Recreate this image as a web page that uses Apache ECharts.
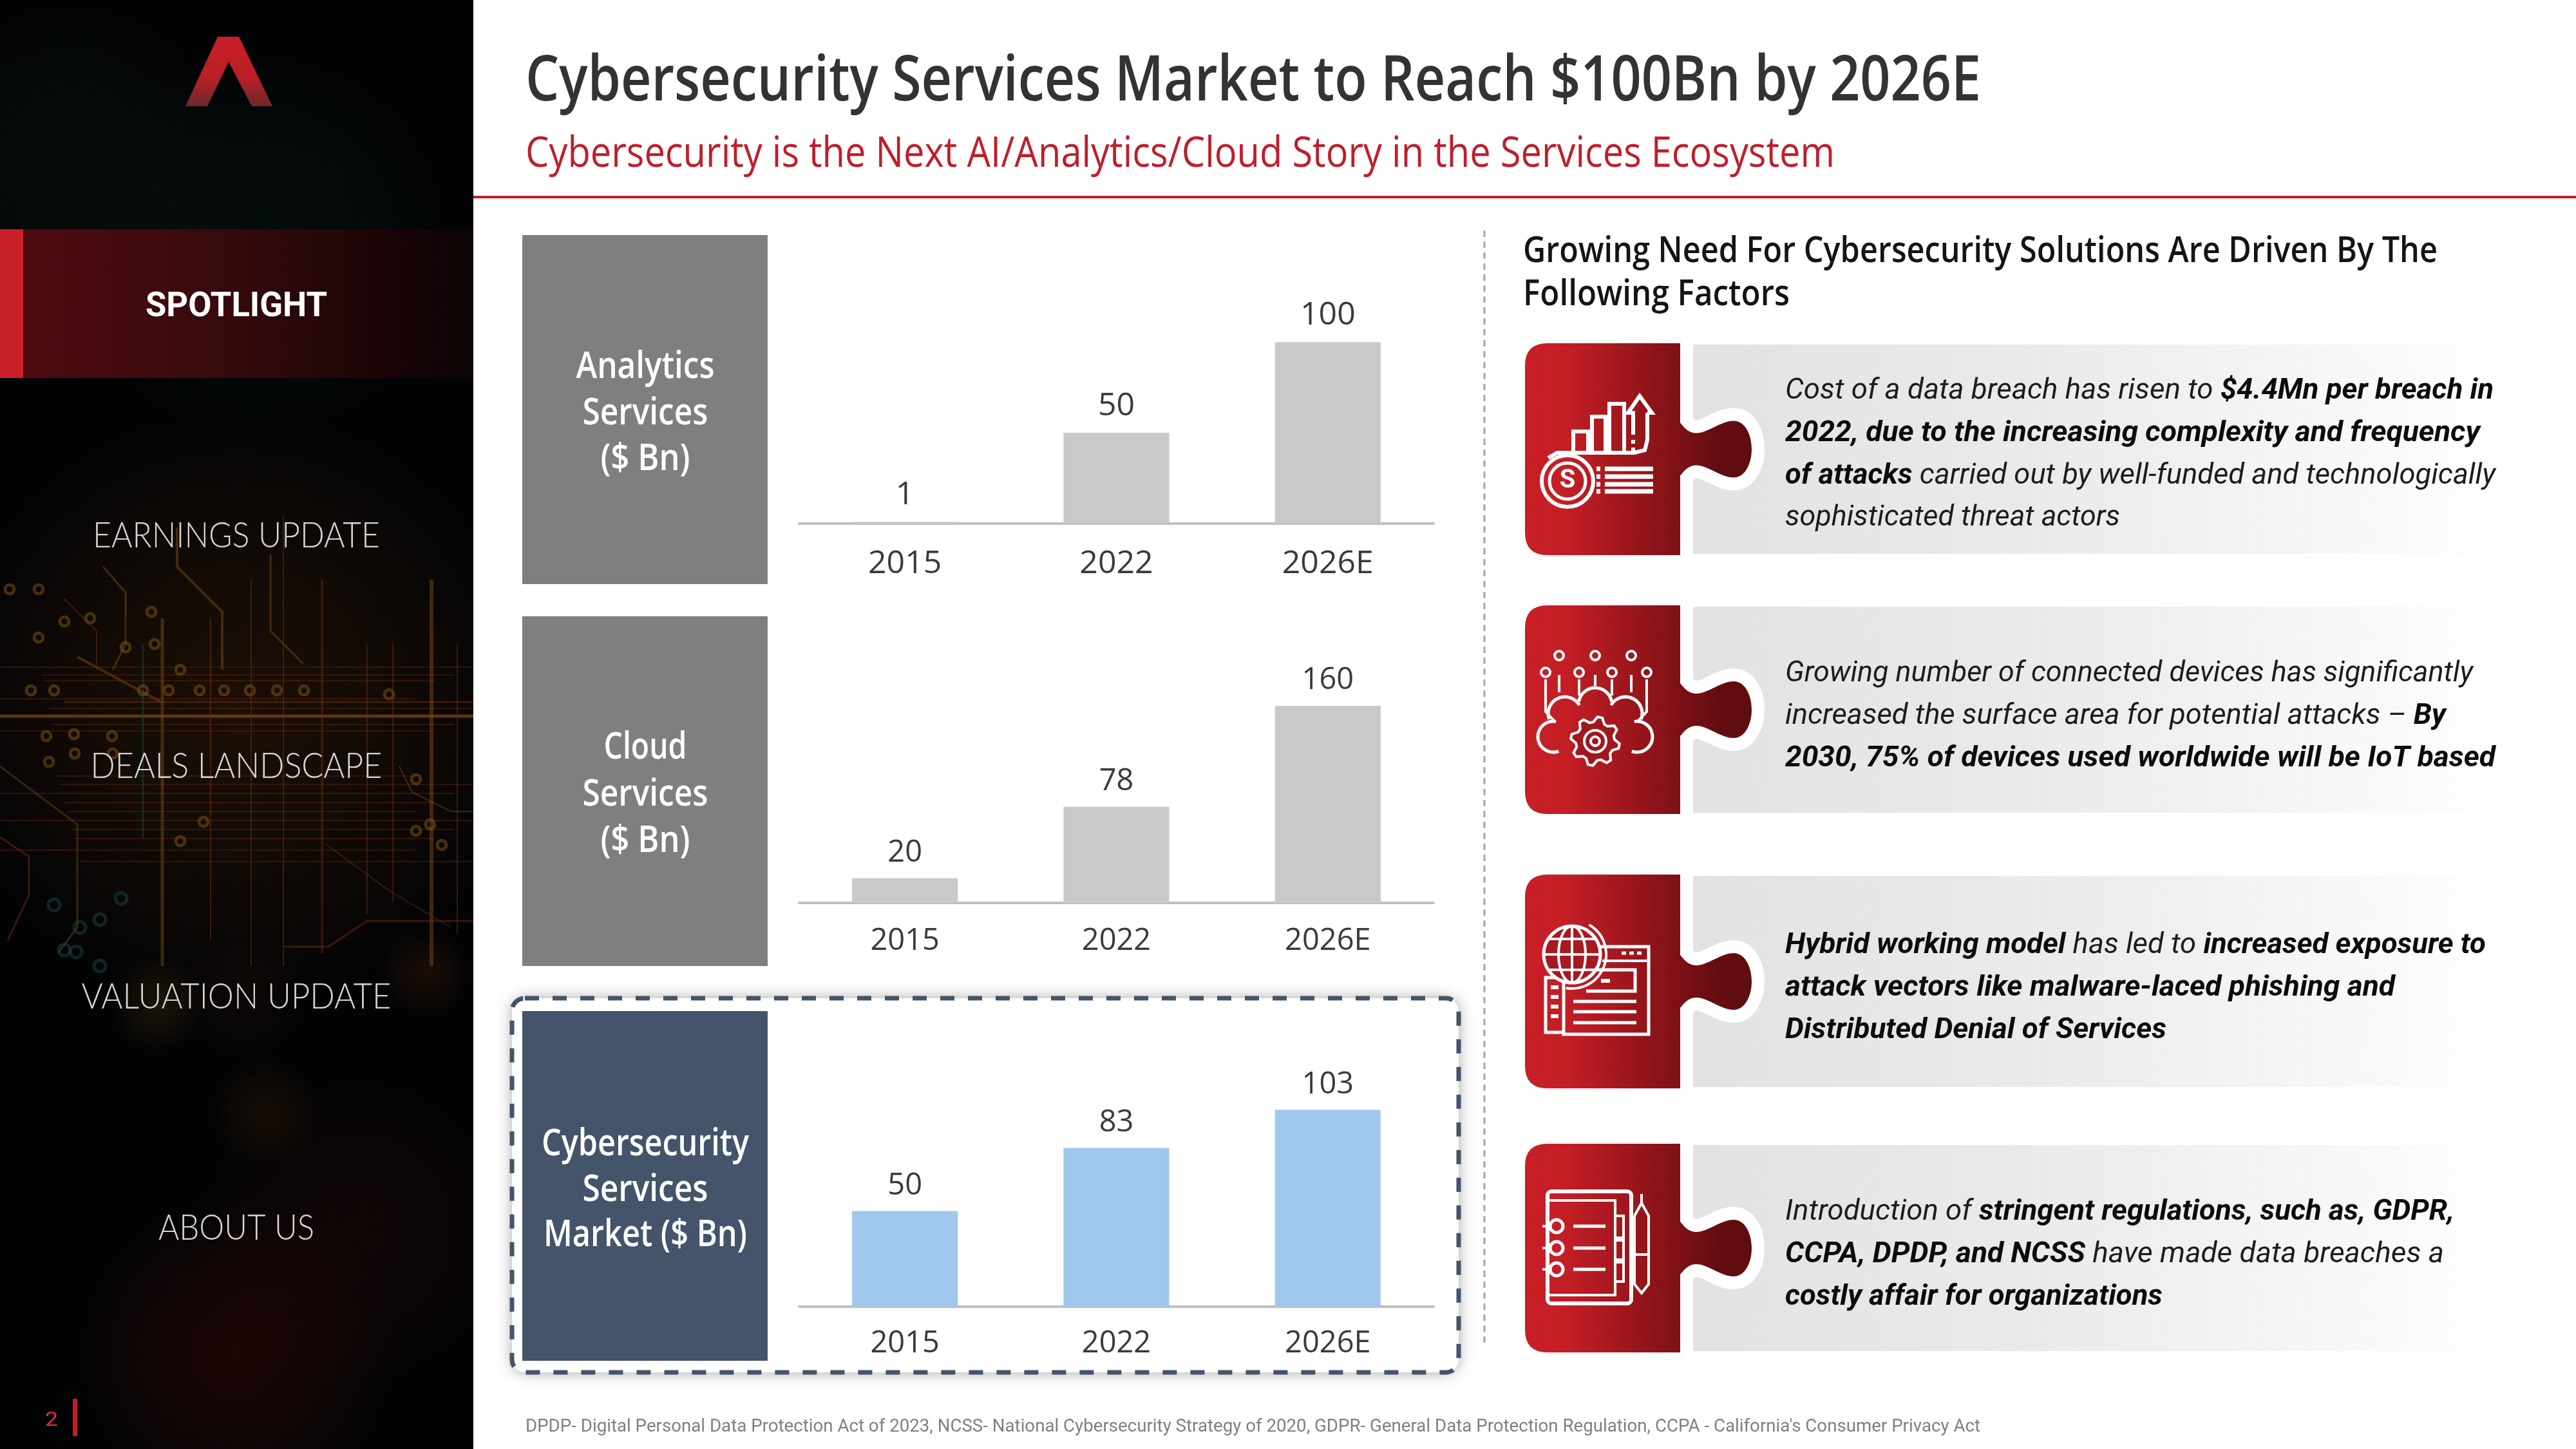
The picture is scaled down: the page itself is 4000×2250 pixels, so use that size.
<!DOCTYPE html>
<html><head><meta charset="utf-8">
<style>html,body{margin:0;padding:0;background:#fff}#c{width:4000px;height:2250px}</style>
<script src="https://cdn.jsdelivr.net/npm/echarts@6/dist/echarts.min.js"></script>
</head><body><div id="c"></div>
<script>
// ---------- chart data ----------
const categories = ['2015', '2022', '2026E'];
const analyticsValues = [1, 50, 100];
const cloudValues = [20, 78, 160];
const cyberValues = [50, 83, 103];

// ---------- texts ----------
const titleText = 'Cybersecurity Services Market to Reach $100Bn by 2026E';
const subtitleText = 'Cybersecurity is the Next AI/Analytics/Cloud Story in the Services Ecosystem';
const footnoteText = "DPDP- Digital Personal Data Protection Act of 2023, NCSS- National Cybersecurity Strategy of 2020, GDPR- General Data Protection Regulation, CCPA - California's Consumer Privacy Act";
const factorsHead = ['Growing Need For Cybersecurity Solutions Are Driven By The', 'Following Factors'];
const navItems = ['SPOTLIGHT', 'EARNINGS UPDATE', 'DEALS LANDSCAPE', 'VALUATION UPDATE', 'ABOUT US'];
const panelLabels = [['Analytics', 'Services', '($ Bn)'], ['Cloud', 'Services', '($ Bn)'], ['Cybersecurity', 'Services', 'Market ($ Bn)']];
const factorLines = [
  [[['Cost of a data breach has risen to ', 0], ['$4.4Mn per breach in', 1]], [['2022, due to the increasing complexity and frequency', 1]], [['of attacks', 1], [' carried out by well-funded and technologically', 0]], [['sophisticated threat actors', 0]]],
  [[['Growing number of connected devices has significantly', 0]], [['increased the surface area for potential attacks – ', 0], ['By', 1]], [['2030, 75% of devices used worldwide will be IoT based', 1]]],
  [[['Hybrid working model', 1], [' has led to ', 0], ['increased exposure to', 1]], [['attack vectors like malware-laced phishing and', 1]], [['Distributed Denial of Services', 1]]],
  [[['Introduction of ', 0], ['stringent regulations, such as, GDPR,', 1]], [['CCPA, DPDP, and NCSS', 1], [' have made data breaches a', 0]], [['costly affair for organizations', 1]]]
];

// ---------- layout ----------
const charts = [
  { values: analyticsValues, color: '#C9C9C9', axisY: 813, top: 362, max: 160, tick: 50, lab: 50, dist: 16, margin: 38 },
  { values: cloudValues, color: '#C9C9C9', axisY: 1402, top: 943, max: 240, tick: 47, lab: 47, dist: 16, margin: 36 },
  { values: cyberValues, color: '#A0C8EC', axisY: 2029, top: 1554, max: 160, tick: 47, lab: 47, dist: 15, margin: 34 }
];
const panels = [
  { y: 365, h: 542, fill: '#7F7F7F', ly: [569, 641, 712], lw: [215, 195, 139] },
  { y: 957, h: 543, fill: '#7F7F7F', ly: [1160, 1233, 1305], lw: [129, 195, 139] },
  { y: 1570, h: 543, fill: '#44546A', ly: [1776, 1847, 1917], lw: [322, 195, 316] }
];
const cards = [
  { top: 533, bottom: 862, ys: [603, 669, 735, 800], ws: [1100, 1079, 1103, 520] },
  { top: 940, bottom: 1264, ys: [1042, 1108, 1174], ws: [1068, 1026, 1103] },
  { top: 1358, bottom: 1690, ys: [1464, 1530, 1596], ws: [1088, 947, 592] },
  { top: 1776, bottom: 2100, ys: [1878, 1944, 2010], ws: [1039, 1023, 586] }
];
const navLayout = [[477, 282], [832, 446], [1190, 453], [1548, 481], [1907, 242]];

const FONT = 'Roboto';
const mctx = document.createElement('canvas').getContext('2d');
function mw(t, font) { mctx.font = font; return mctx.measureText(t).width; }
const els = [];
const add = o => (els.push(o), o);

// puzzle-piece outline used by the cards
echarts.graphic.registerShape('puzzle', echarts.graphic.extendShape({
  shape: { x: 0, y: 0, h: 100 },
  buildPath(ctx, s) {
    const X = s.x, Y = s.y, h = s.h, c = h / 2, M = (a, b) => [X + a, Y + b];
    ctx.moveTo(...M(35, 0));
    ctx.lineTo(...M(241, 0));
    ctx.lineTo(...M(241, c - 41));
    ctx.bezierCurveTo(...M(250, c - 30), ...M(256, c - 25), ...M(266, c - 25));
    ctx.bezierCurveTo(...M(284, c - 25), ...M(304, c - 44), ...M(324, c - 44));
    ctx.bezierCurveTo(...M(342, c - 44), ...M(352, c - 22), ...M(352, c));
    ctx.bezierCurveTo(...M(352, c + 22), ...M(342, c + 44), ...M(324, c + 44));
    ctx.bezierCurveTo(...M(304, c + 44), ...M(284, c + 25), ...M(266, c + 25));
    ctx.bezierCurveTo(...M(256, c + 25), ...M(250, c + 30), ...M(241, c + 41));
    ctx.lineTo(...M(241, h));
    ctx.lineTo(...M(35, h));
    ctx.quadraticCurveTo(...M(0, h), ...M(0, h - 35));
    ctx.lineTo(...M(0, 35));
    ctx.quadraticCurveTo(...M(0, 0), ...M(35, 0));
    ctx.closePath();
  }
}));

function T(text, o) {
  const fam = o.family || FONT, size = o.size, w = o.weight || 400, it = o.italic ? 'italic ' : '';
  const f = `${it}${w} ${size}px "${fam}"`;
  const sx = o.w ? o.w / mw(text, f) : 1;
  add({ type: 'text', x: o.x, y: o.y, scaleX: sx, silent: true,
    style: { text, font: f, fill: o.color, align: o.align || 'left', verticalAlign: 'middle' } });
}
function richLine(segs, x, y, tw) {
  const size = 44, fr = `italic 400 ${size}px "${FONT}"`, fb = `italic 700 ${size}px "${FONT}"`;
  let total = 0;
  segs.forEach(s => total += mw(s[0], s[1] ? fb : fr));
  add({ type: 'text', x, y: y + 5, scaleX: tw / total, silent: true,
    style: { text: segs.map(s => `{${s[1] ? 'b' : 'r'}|${s[0]}}`).join(''), verticalAlign: 'middle', align: 'left',
      rich: {
        r: { fontFamily: FONT, fontSize: size, fontStyle: 'italic', fontWeight: 400, fill: '#1c1c1c' },
        b: { fontFamily: FONT, fontSize: size, fontStyle: 'italic', fontWeight: 700, fill: '#0c0c0c' }
      } } });
}
const hgrad = (stops) => ({ type: 'linear', x: 0, y: 0, x2: 1, y2: 0, colorStops: stops.map(s => ({ offset: s[0], color: s[1] })) });
const vgrad = (stops) => ({ type: 'linear', x: 0, y: 0, x2: 0, y2: 1, colorStops: stops.map(s => ({ offset: s[0], color: s[1] })) });
const rad = (stops) => ({ type: 'radial', x: .5, y: .5, r: .5, colorStops: stops.map(s => ({ offset: s[0], color: s[1] })) });
const glow = (x, y, w, h, rgb, a) => add({ type: 'rect', silent: true, shape: { x, y, width: w, height: h }, style: { fill: rad([[0, `rgba(${rgb},${a})`], [.55, `rgba(${rgb},${a * .55})`], [1, `rgba(${rgb},0)`]]) } });
const R = (x, y, width, height, fill, r) => add({ type: 'rect', silent: true, shape: { x, y, width, height, r: r || 0 }, style: { fill } });
const L = (pts, stroke, lineWidth) => add({ type: 'polyline', silent: true, shape: { points: pts }, style: { fill: 'none', stroke, lineWidth } });
const C = (cx, cy, r, stroke, lineWidth) => add({ type: 'circle', silent: true, shape: { cx, cy, r }, style: { fill: 'none', stroke, lineWidth } });
const A = (cx, cy, r, a0, a1, stroke, lineWidth) => add({ type: 'arc', silent: true, shape: { cx, cy, r, startAngle: a0 * Math.PI / 180, endAngle: a1 * Math.PI / 180, clockwise: true }, style: { fill: 'none', stroke, lineWidth } });

// ---------- sidebar ----------
R(0, 0, 735, 2250, '#020305');
glow(100, 0, 600, 760, '10,30,22', .4);
glow(-200, 2, 620, 500, '14,26,16', .4);
glow(-100, 620, 935, 960, '62,32,8', .42);
glow(-100, 1850, 935, 500, '52,10,5', .5);
glow(250, 1660, 600, 500, '36,8,5', .4);
// blurred traces
glow(170, 1300, 150, 520, '84,58,12', .3);
glow(100, 1640, 620, 170, '70,40,8', .28);
glow(590, 1300, 140, 420, '80,34,10', .3);
glow(280, 1320, 200, 460, '70,28,10', .15);
// circuit decoration
const amber = 'rgba(120,74,18,.5)', rust = 'rgba(105,40,14,.55)', teal = 'rgba(24,72,68,.5)';
[1036, 1048, 1057, 1085, 1100, 1125, 1135, 1205, 1218, 1232, 1246, 1260, 1274, 1288, 1302, 1320, 1338].forEach((y, i) =>
  L([[i % 3 === 0 ? 0 : 60 + i * 4, y], [735 - (i % 4) * 30, y]], rust, 1.5));
L([[0, 1112], [735, 1112]], 'rgba(125,76,20,.7)', 5);
L([[100, 1090], [735, 1090]], rust, 3);
[[252, 960, 1500, 5, amber], [327, 960, 1460, 2, rust], [390, 900, 1500, 2, rust], [440, 800, 1500, 2, rust], [500, 900, 1480, 3, rust],
 [570, 1000, 1420, 2, rust], [610, 1000, 1400, 2, rust], [670, 900, 1500, 6, amber], [710, 1000, 1450, 2, rust], [222, 1000, 1300, 3, teal]].forEach(v =>
  L([[v[0], v[1]], [v[0], v[2]]], v[4], v[3]));
L([[0, 1190], [120, 1280], [120, 1440], [90, 1480]], 'rgba(110,76,18,.45)', 3);
L([[0, 1300], [45, 1330], [45, 1390], [12, 1460]], rust, 3);
L([[120, 1020], [250, 1090]], amber, 4);
L([[160, 880], [195, 920], [195, 1000], [175, 1040]], amber, 3);
L([[100, 930], [150, 980], [150, 1040]], rust, 2);
L([[275, 820], [275, 880], [345, 950], [345, 1040]], amber, 4);
L([[420, 860], [420, 980], [470, 1030]], amber, 3);
L([[505, 1310], [600, 1380], [700, 1440]], rust, 2);
L([[440, 1470], [510, 1470], [570, 1430], [735, 1430]], rust, 3);
L([[620, 1190], [640, 1230], [700, 1260], [735, 1260]], amber, 2);
[[48, 1072], [84, 1072], [222, 1072], [262, 1072], [310, 1072], [348, 1072], [388, 1072], [430, 1072], [472, 1072], [604, 1078],
 [72, 1143], [115, 1140], [174, 1143], [116, 1170], [76, 1183], [175, 1170], [316, 1276], [280, 1306], [646, 1210], [646, 1290], [668, 1280], [686, 1312],
 [15, 915], [60, 915], [100, 965], [140, 960], [60, 990], [235, 950], [240, 1000], [195, 1005], [280, 1040]].forEach(p =>
  C(p[0], p[1], 7, 'rgba(125,80,20,.55)', 5));
[[84, 1405], [124, 1440], [155, 1428], [188, 1395], [100, 1475], [118, 1478], [155, 1500]].forEach(p =>
  C(p[0], p[1], 9, teal, 5));
// logo
add({ type: 'polygon', silent: true, shape: { points: [[338, 57], [371, 57], [423, 165], [391, 165], [355, 96], [322, 165], [288, 165]] },
  style: { fill: vgrad([[0, '#C71F28'], [.6, '#B91F26'], [1, '#6A2A2B']]) } });
// active band
R(36, 356, 699, 231, hgrad([[0, '#4F0B10'], [.45, '#360A0C'], [.85, '#160406'], [1, '#0C0304']]));
R(0, 356, 36, 231, '#C71F28');
navItems.forEach((n, i) => T(n, { x: 367, y: navLayout[i][0], w: navLayout[i][1], size: i === 0 ? 54 : 56, weight: i === 0 ? 700 : 300, color: i === 0 ? '#FFFFFF' : '#D6D6D6', align: 'center', family: i === 0 ? FONT : 'Lato' }));
T('2', { x: 80, y: 2206, w: 20, size: 32, color: '#D8323A', align: 'center' });
R(113, 2172, 7, 58, '#C71F28');

// ---------- main white area (hides sidebar glow overflow) ----------
R(735, 0, 3265, 2250, '#FFFFFF');

// ---------- header ----------
T(titleText, { x: 816, y: 128, w: 2260, size: 98, weight: 600, color: '#333333', family: 'Open Sans' });
T(subtitleText, { x: 816, y: 240, w: 2033, size: 66, weight: 500, color: '#BF1E2A', family: 'Open Sans' });
R(735, 304, 3265, 4, '#BF1E2A');

// ---------- highlighted box ----------
add({ type: 'rect', silent: true, shape: { x: 795, y: 1550, width: 1470, height: 581, r: 20 }, style: { fill: '#fff', shadowBlur: 22, shadowColor: 'rgba(0,0,0,.35)' } });
add({ type: 'rect', silent: true, shape: { x: 795, y: 1550, width: 1470, height: 581, r: 20 }, style: { fill: 'none', stroke: '#44546A', lineWidth: 7, lineDash: [22, 21] } });

// ---------- panels ----------
panels.forEach((p, i) => {
  R(811, p.y, 381, p.h, p.fill);
  panelLabels[i].forEach((t, j) => T(t, { x: 1002, y: p.ly[j] + 1, w: p.lw[j], size: 58, weight: 600, color: '#FFFFFF', align: 'center', family: 'Open Sans' }));
});
// divider
L([[2305, 358], [2305, 2092]], '#A3A3A3', 3).style.lineDash = [10, 7];

// ---------- factor cards ----------
factorsHead.forEach((t, i) => T(t, { x: 2365, y: [391, 458][i], w: i ? 414 : 1420, size: 56, weight: 600, color: '#141414', family: 'Open Sans' }));

cards.forEach((c, i) => {
  const h = c.bottom - c.top;
  R(2629, c.top + 2, 1260, h - 4, hgrad([[0, '#E2E2E2'], [.45, '#EBEBEB'], [.85, '#F9F9F9'], [1, '#FFFFFF']]));
  add({ type: 'puzzle', silent: true, shape: { x: 2368, y: c.top, h }, style: { fill: 'none', stroke: '#FFFFFF', lineWidth: 40 } });
  add({ type: 'puzzle', silent: true, shape: { x: 2368, y: c.top, h }, style: { fill: hgrad([[0, '#C81F27'], [.18, '#C41E25'], [.68, '#7D1116'], [.85, '#640D11'], [1, '#5E0D10']]) } });
  c.ys.forEach((y, j) => richLine(factorLines[i][j], 2772, y, c.ws[j]));
});

// ---------- icons (decorative line art, card-relative) ----------
const W = '#FFFFFF';
(function icon1(ox, oy) {
  const P = a => a.map(p => [ox + p[0], oy + p[1]]);
  L(P([[75, 170], [75, 137], [98, 137], [98, 170]]), W, 6);
  L(P([[104, 170], [104, 114], [125, 114], [125, 170]]), W, 6);
  L(P([[131, 170], [131, 94], [154, 94], [154, 170]]), W, 6);
  L(P([[36, 178], [50, 170], [170, 170], [186, 166], [190, 150], [190, 108]]), W, 6);
  L(P([[190, 108], [197, 108], [178, 82], [160, 108], [168, 108], [168, 142]]), W, 6);
  L(P([[168, 150], [168, 156]]), W, 6); L(P([[168, 162], [168, 168]]), W, 6);
  C(ox + 66, oy + 214, 40, W, 6);
  C(ox + 66, oy + 214, 28, W, 5);
  add({ type: 'text', x: ox + 66, y: oy + 214, silent: true, style: { text: 'S', font: '700 40px "Roboto"', fill: W, align: 'center', verticalAlign: 'middle' } });
  [195, 207, 219, 230].forEach(y => L(P([[124, y], [199, y]]), W, 7));
  [195, 207, 219, 230].forEach(y => L(P([[111, y], [117, y]]), W, 7));
})(2368, 533);
(function icon2(ox, oy) {
  const P = a => a.map(p => [ox + p[0], oy + p[1]]);
  [[53, 78, 135], [109, 78, 125], [165, 78, 135]].forEach(v => { C(ox + v[0], oy + v[1], 7, W, 4); L(P([[v[0], v[1] + 30], [v[0], v[2]]]), W, 4); });
  [32, 84, 135, 189].forEach(x => { C(ox + x, oy + 104, 7, W, 4); });
  [[32, 115, 165, 44, 180], [189, 115, 165, 171, 180]].forEach(v => L(P([[v[0], v[1]], [v[0], v[2]], [v[0] === 32 ? 46 : 175, v[4]]]), W, 4));
  [84, 135].forEach(x => L(P([[x, 115], [x, 140]]), W, 4));
  A(ox + 44, oy + 204, 24, 70, 280, W, 5);
  A(ox + 62, oy + 168, 26, 160, 330, W, 5);
  A(ox + 109, oy + 154, 26, 190, 350, W, 5);
  A(ox + 156, oy + 168, 26, 210, 20, W, 5);
  A(ox + 174, oy + 204, 24, 260, 110, W, 5);
  const pts = [];
  for (let k = 0; k < 32; k++) { const r = [38, 38, 30, 30][k % 4], a = (k + .5) / 32 * 2 * Math.PI; pts.push([ox + 109 + r * Math.cos(a), oy + 211 + r * Math.sin(a)]); }
  add({ type: 'polygon', silent: true, shape: { points: pts }, style: { fill: '#A0171D', stroke: W, lineWidth: 4 } });
  C(ox + 109, oy + 211, 17, W, 4); C(ox + 109, oy + 211, 7, W, 4);
})(2368, 940);
(function icon3(ox, oy) {
  const P = a => a.map(p => [ox + p[0], oy + p[1]]);
  L(P([[60, 160], [32, 160], [32, 245], [60, 245]]), W, 5);
  [175, 190, 205, 220].forEach(y => L(P([[40, y], [52, y]]), W, 6));
  L(P([[110, 112], [192, 112], [192, 248], [60, 248], [60, 160]]), W, 5);
  L(P([[120, 134], [192, 134]]), W, 4);
  [150, 162, 174].forEach(x => L(P([[x, 122], [x + 7, 122]]), W, 5));
  L(P([[100, 148], [171, 148], [171, 181], [95, 181]]), W, 5);
  L(P([[118, 165], [132, 165]]), W, 6);
  [197, 213, 230].forEach(y => L(P([[75, y], [173, y]]), W, 5));
  add({ type: 'circle', silent: true, shape: { cx: ox + 73, cy: oy + 124, r: 44 }, style: { fill: '#A8191F', stroke: W, lineWidth: 5 } });
  add({ type: 'ellipse', silent: true, shape: { cx: ox + 73, cy: oy + 124, rx: 21, ry: 44 }, style: { fill: 'none', stroke: W, lineWidth: 4 } });
  L(P([[73, 80], [73, 168]]), W, 4);
  L(P([[29, 124], [117, 124]]), W, 4);
  L(P([[37, 100], [109, 100]]), W, 4);
  L(P([[37, 148], [109, 148]]), W, 4);
  A(ox + 73, oy + 124, 53, -60, 100, W, 4);
})(2368, 1358);
(function icon4(ox, oy) {
  const P = a => a.map(p => [ox + p[0], oy + p[1]]);
  add({ type: 'rect', silent: true, shape: { x: ox + 35, y: oy + 74, width: 130, height: 174, r: 6 }, style: { fill: 'none', stroke: W, lineWidth: 6 } });
  L(P([[35, 88], [140, 88], [140, 235], [35, 235]]), W, 4);
  [[112, 150], [146, 184], [180, 214]].forEach(v => L(P([[142, v[0]], [153, v[0]], [153, v[1]], [142, v[1]]]), W, 4));
  [128, 162, 195].forEach(y => {
    C(ox + 49, oy + y, 10, W, 5);
    L(P([[27, y], [38, y]]), W, 4);
    L(P([[75, y], [125, y]]), W, 5);
  });
  L(P([[170, 112], [181, 92], [192, 112], [192, 218], [181, 232], [170, 218], [170, 112]]), W, 4);
  L(P([[170, 172], [192, 172]]), W, 4);
  L(P([[181, 92], [181, 78]]), W, 4);
})(2368, 1776);

// ---------- footnote ----------
T(footnoteText, { x: 816, y: 2216, w: 2259, size: 27, color: '#808080' });

// ---------- echarts option ----------
const option = {
  animation: false,
  backgroundColor: '#FFFFFF',
  graphic: { elements: els },
  grid: charts.map(c => ({ left: 1241, width: 985, top: c.top, height: c.axisY - c.top, containLabel: false })),
  xAxis: charts.map((c, i) => ({
    type: 'category', gridIndex: i, data: categories,
    axisTick: { show: false },
    axisLine: { show: true, lineStyle: { color: '#BFBFBF', width: 4 } },
    axisLabel: { color: '#3A3A3A', fontFamily: 'Open Sans', fontSize: c.tick, margin: c.margin }
  })),
  yAxis: charts.map((c, i) => ({ type: 'value', gridIndex: i, min: 0, max: c.max, show: false, splitLine: { show: false } })),
  series: charts.map((c, i) => ({
    type: 'bar', xAxisIndex: i, yAxisIndex: i, data: c.values, barWidth: '50%',
    itemStyle: { color: c.color },
    label: { show: true, position: 'top', distance: c.dist, color: '#3A3A3A', fontFamily: 'Open Sans', fontSize: c.lab }
  }))
};
const chart = echarts.init(document.getElementById('c'), null, { renderer: 'canvas', width: 4000, height: 2250, devicePixelRatio: 1 });
chart.setOption(option);
</script></body></html>
